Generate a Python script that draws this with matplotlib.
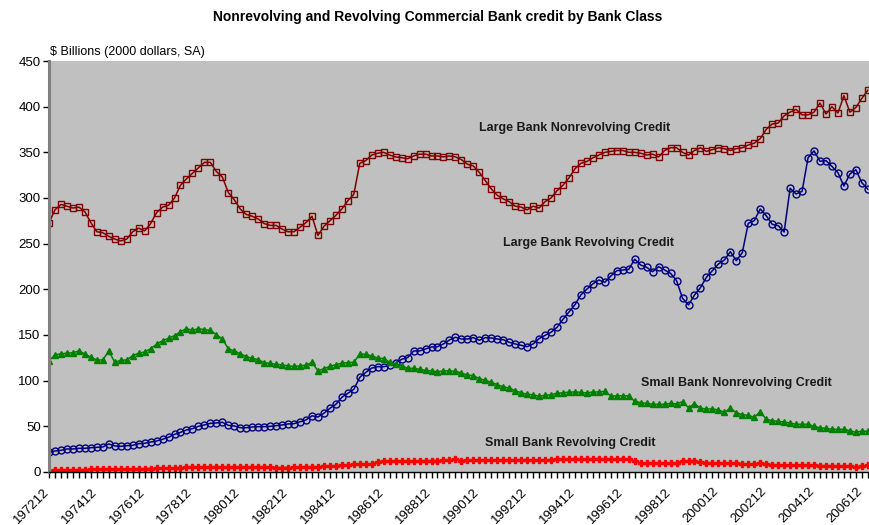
import matplotlib

matplotlib.use("Agg")
import matplotlib.pyplot as plt
import matplotlib.transforms as mtransforms
import numpy as np
import pandas as pd

plt.rcParams["font.family"] = ["Liberation Sans", "DejaVu Sans"]

# quarterly series, $ billions (2000 dollars, SA), starting 1972Q4
large_nonrev = [
    273, 287, 293, 291, 289, 290, 285, 273, 263, 262,
    258, 255, 253, 255, 263, 267, 264, 272, 284, 290,
    292, 300, 314, 321, 327, 333, 339, 339, 329, 323,
    306, 298, 288, 282, 280, 277, 272, 270, 270, 266,
    263, 263, 268, 273, 280, 259, 269, 275, 281, 288,
    297, 304, 338, 341, 347, 349, 350, 347, 345, 344,
    343, 346, 348, 348, 346, 346, 345, 346, 345, 342,
    337, 335, 328, 319, 310, 303, 299, 296, 291, 290,
    287, 291, 289, 296, 300, 308, 314, 322, 332, 338,
    340, 344, 347, 350, 351, 352, 352, 350, 350, 349,
    347, 348, 345, 352, 355, 355, 350, 347, 352, 355,
    351, 353, 355, 354, 352, 354, 355, 358, 360, 365,
    375, 381, 382, 390, 394, 397, 391, 391, 394, 404,
    392, 400, 393, 412, 394, 399, 409, 418,
]
large_rev = [
    21.5, 23.0, 23.7, 25.2, 25.2, 25.9, 25.9, 26.6, 27.0, 27.4,
    30.7, 28.5, 28.1, 28.8, 29.2, 31.0, 31.4, 32.8, 33.9, 35.8,
    38.0, 41.2, 43.4, 46.0, 47.4, 50.0, 51.5, 53.3, 53.7, 54.4,
    51.1, 50.4, 48.5, 48.5, 49.3, 49.6, 49.6, 50.0, 50.7, 51.5,
    52.6, 52.9, 54.9, 57.0, 61.5, 60.2, 64.4, 69.7, 74.1, 81.8,
    86.1, 90.5, 103.7, 109.1, 113.8, 115.3, 115.3, 116.8, 119.0, 123.4,
    125.2, 132.5, 132.5, 134.7, 136.9, 137.2, 140.2, 144.5, 147.5, 145.6,
    145.6, 147.1, 144.2, 147.1, 146.7, 145.6, 144.9, 142.0, 140.2, 138.7,
    137.2, 140.2, 146.0, 149.6, 153.0, 158.4, 167.2, 175.2, 183.2, 194.0,
    200.2, 206.0, 210.2, 207.7, 214.6, 220.4, 221.2, 221.9, 232.9, 226.6,
    224.1, 219.3, 224.8, 221.2, 217.5, 209.5, 190.2, 182.9, 193.8, 201.8,
    213.2, 220.4, 227.7, 232.1, 241.2, 231.4, 240.1, 272.3, 275.2, 288.0,
    280.7, 271.2, 269.7, 262.8, 310.6, 304.4, 307.3, 344.0, 351.6, 340.2,
    340.9, 334.6, 327.7, 313.1, 326.3, 331.0, 316.8, 309.7,
]
small_nonrev = [
    121.9, 128.1, 129.5, 129.9, 130.6, 132.5, 129.2, 125.6, 122.6, 122.6,
    132.5, 120.1, 122.3, 122.6, 127.4, 129.9, 131.4, 135.0, 139.8, 143.8,
    146.4, 149.3, 153.7, 156.9, 155.1, 156.9, 155.8, 155.1, 150.4, 145.6,
    135.0, 132.5, 129.5, 126.3, 124.5, 123.0, 119.7, 119.0, 117.9, 117.2,
    116.1, 115.7, 116.1, 117.0, 119.9, 110.8, 113.1, 115.7, 117.4, 119.3,
    119.7, 120.1, 129.2, 128.9, 127.0, 124.8, 124.1, 120.1, 118.3, 116.4,
    113.5, 113.5, 112.4, 111.3, 110.6, 109.8, 110.6, 110.9, 110.2, 108.4,
    106.2, 105.5, 102.2, 100.4, 98.2, 95.6, 93.1, 92.0, 89.0, 86.8,
    85.0, 84.6, 82.9, 84.0, 84.6, 86.1, 86.8, 87.4, 87.6, 87.2,
    86.5, 87.6, 87.6, 88.3, 83.2, 83.2, 83.6, 83.2, 77.4, 75.9,
    75.2, 74.1, 74.1, 74.1, 75.2, 74.5, 77.0, 70.4, 74.8, 69.7,
    69.0, 69.0, 67.9, 65.4, 69.7, 64.9, 62.7, 62.0, 59.9, 66.0,
    57.7, 56.2, 55.5, 54.7, 53.7, 52.2, 52.2, 52.2, 50.0, 48.2,
    47.8, 46.7, 46.7, 46.7, 45.2, 43.4, 44.9, 44.5,
]
small_rev = [
    1.5, 1.8, 2.0, 2.2, 2.4, 2.5, 2.6, 2.8, 3.0, 3.0,
    3.3, 3.2, 3.3, 3.4, 3.5, 3.6, 3.7, 3.8, 4.0, 4.2,
    4.4, 4.6, 4.8, 5.0, 5.1, 5.2, 5.3, 5.4, 5.5, 5.5,
    5.4, 5.3, 5.2, 5.1, 5.0, 5.0, 4.9, 4.9, 4.8, 4.8,
    4.8, 4.9, 5.0, 5.2, 5.5, 5.8, 6.2, 6.6, 7.0, 7.5,
    7.9, 8.3, 8.6, 8.8, 8.8, 11.0, 12.0, 12.0, 12.1, 12.1,
    12.0, 12.2, 12.3, 12.3, 12.4, 12.5, 12.6, 12.8, 14.2, 12.5,
    12.6, 12.8, 13.0, 13.0, 13.2, 13.3, 13.3, 13.4, 13.5, 13.5,
    13.4, 13.3, 13.2, 13.3, 13.5, 14.0, 14.2, 14.3, 14.3, 14.4,
    14.5, 14.6, 14.5, 14.4, 14.5, 14.3, 14.2, 13.8, 11.5, 10.0,
    9.5, 9.3, 9.3, 9.3, 9.6, 10.0, 12.0, 12.3, 11.8, 10.8,
    10.3, 10.0, 9.8, 9.7, 9.5, 9.3, 9.2, 8.8, 8.5, 10.0,
    8.3, 8.0, 7.8, 7.7, 7.6, 7.5, 7.4, 7.3, 7.2, 7.0,
    6.9, 6.8, 6.7, 6.6, 6.5, 5.0, 6.3, 7.2,
]

quarters = pd.period_range("1972Q4", periods=len(large_nonrev), freq="Q")
quarter_labels = [f"{p.year}{p.quarter * 3:02d}" for p in quarters]
label_step = 8

series = [
    ("Large Bank Nonrevolving Credit", large_nonrev, "#800000", "s", 4.2, "none"),
    ("Large Bank Revolving Credit", large_rev, "#000080", "o", 5.0, "none"),
    ("Small Bank Nonrevolving Credit", small_nonrev, "#008000", "^", 4.8, "#008000"),
    ("Small Bank Revolving Credit", small_rev, "#FF0000", "P", 5.0, "#FF0000"),
]
label_pos = {
    "Large Bank Nonrevolving Credit": (72, 377),
    "Large Bank Revolving Credit": (76, 251),
    "Small Bank Nonrevolving Credit": (99, 97),
    "Small Bank Revolving Credit": (73, 32),
}

fig = plt.figure(figsize=(8.69, 5.25), dpi=100)
ax = fig.add_axes([0.0564, 0.101, 0.9436, 0.7828])
ax.set_facecolor("#C0C0C0")

x = np.arange(len(quarters))
for name, values, color, marker, msize, face in series:
    ax.plot(x, values, color=color, linewidth=1.1, marker=marker, markersize=msize,
            markerfacecolor=face, markeredgecolor=color, markeredgewidth=1.0)
    tx, ty = label_pos[name]
    ax.text(tx, ty, name, fontsize=9, fontweight="bold", color="#1a1a1a",
            ha="left", va="center")

ax.set_xlim(0, len(quarters) - 0.8)
ax.set_ylim(0, 450)
ax.set_yticks(np.arange(0, 451, 50))
ax.tick_params(axis="y", labelsize=9.5, length=4, width=1, direction="out", pad=2)

ax.set_xticks(x, minor=True)
ax.set_xticks(x[::label_step])
ax.set_xticklabels(quarter_labels[::label_step], rotation=45, ha="right",
                   rotation_mode="anchor", fontsize=9.5)
ax.tick_params(axis="x", which="both", length=4, width=1, direction="out", pad=3)

# nudge the slanted date labels a little left and down
shift = mtransforms.ScaledTranslation(-6 / 100, -4 / 100, fig.dpi_scale_trans)
for lbl in ax.get_xticklabels():
    lbl.set_transform(lbl.get_transform() + shift)

for side in ("top", "right"):
    ax.spines[side].set_visible(False)
ax.spines["left"].set_color("#808080")
ax.spines["left"].set_linewidth(2.2)
ax.spines["bottom"].set_color("black")
ax.spines["bottom"].set_linewidth(1.0)

fig.text(0.504, 0.967, "Nonrevolving and Revolving Commercial Bank credit by Bank Class",
         fontsize=10, fontweight="bold", ha="center", va="center")
fig.text(0.058, 0.901, "$ Billions (2000 dollars, SA)", fontsize=9, ha="left", va="center")

fig.savefig("out.png", dpi=100)
